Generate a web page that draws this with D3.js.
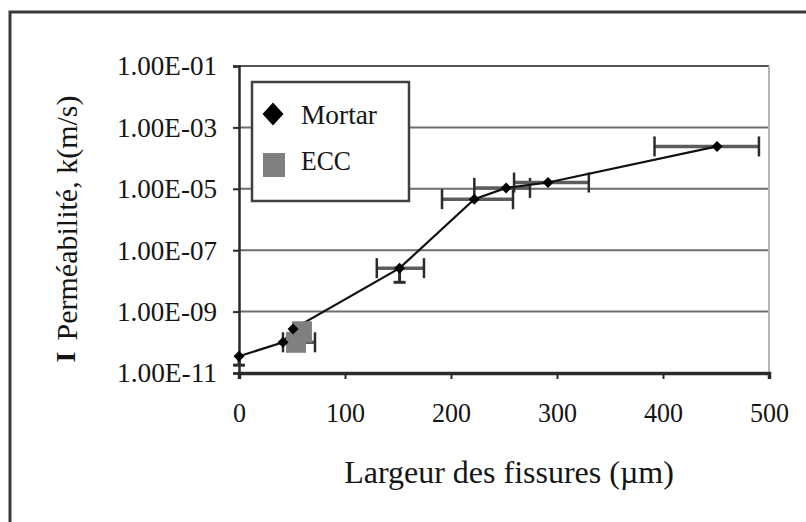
<!DOCTYPE html>
<html>
<head>
<meta charset="utf-8">
<script src="https://cdn.jsdelivr.net/npm/d3@7"></script>
<style>
  html, body { margin: 0; padding: 0; background: #fff; }
  svg { display: block; }
  svg text { font-family: "Liberation Serif", Tinos, "Times New Roman", Times, serif; fill: #151515; }
</style>
</head>
<body>
<svg id="chart" width="806" height="522"></svg>
<script>
// Mortar: crack width (µm) vs permeability k (m/s)
const mortarWidth = [0, 41.5, 51, 151.5, 222, 252, 291.5, 451];
const mortarK     = [3.5e-11, 1.0e-10, 2.7e-10, 2.6e-8, 4.6e-6, 1.07e-5, 1.6e-5, 2.4e-4];
// horizontal error ranges on crack width (null = none)
const mortarWidthLow  = [null, null, null, 130, 191.5, 222, 259.5, 392];
const mortarWidthHigh = [null, null, null, 174.5, 258.5, 274.5, 330, 490.5];
// vertical error ranges on permeability (null = none)
const mortarKLow  = [1.8e-11, null, null, 9.0e-9, null, null, null, null];

// ECC
const eccWidth = [53.8, 59.4];
const eccK     = [1.0e-10, 2.2e-10];
const eccWidthLow  = [41.5, null];
const eccWidthHigh = [71.7, null];

// axes
const xTicks = [0, 100, 200, 300, 400, 500];
const yTicks = [1e-1, 1e-3, 1e-5, 1e-7, 1e-9, 1e-11];
const yTickLabels = ["1.00E-01", "1.00E-03", "1.00E-05", "1.00E-07", "1.00E-09", "1.00E-11"];
const seriesNames = ["Mortar", "ECC"];
const xTitle = "Largeur des fissures (µm)";
const yTitle = "Perméabilité, k(m/s)";

const svg = d3.select("#chart");
const serif = "'Liberation Serif', Tinos, 'Times New Roman', Times, serif";

// outer frame
svg.append("rect")
  .attr("x", 10).attr("y", 12).attr("width", 830).attr("height", 560)
  .attr("fill", "#fff").attr("stroke", "#3a3a3a").attr("stroke-width", 3);

const x = d3.scaleLinear().domain([0, 500]).range([239, 769]);
const y = d3.scaleLog().domain([1e-11, 1e-1]).range([373, 66]);

// gridlines
svg.append("g").selectAll("line")
  .data(yTicks.filter(t => t > 1e-11))
  .join("line")
  .attr("x1", x(0)).attr("x2", x(500))
  .attr("y1", d => y(d)).attr("y2", d => y(d))
  .attr("stroke", (d, i) => i === 0 ? "#555" : "#6e6e6e")
  .attr("stroke-width", 2);

// right edge of plot area
svg.append("line")
  .attr("x1", x(500)).attr("x2", x(500)).attr("y1", y(1e-1)).attr("y2", y(1e-11))
  .attr("stroke", "#b5b5b5").attr("stroke-width", 2);

// y axis (labels slightly condensed, tall serif figures)
const yAxis = d3.axisLeft(y).tickValues(yTicks)
  .tickFormat((d, i) => yTickLabels[i]).tickSize(6).tickPadding(16);
const gy = svg.append("g").attr("transform", `translate(${x(0)},0)`).call(yAxis)
  .attr("font-family", serif);
gy.select(".domain").attr("stroke", "#2a2a2a").attr("stroke-width", 2.5);
gy.selectAll(".tick line").attr("stroke", "#2a2a2a").attr("stroke-width", 2);
gy.selectAll(".tick text").attr("font-size", 28).attr("fill", "#1a1a1a")
  .attr("textLength", 100).attr("lengthAdjust", "spacingAndGlyphs");

// x axis
const xAxis = d3.axisBottom(x).tickValues(xTicks).tickSize(6).tickPadding(23);
const gx = svg.append("g").attr("transform", `translate(0,${y(1e-11)})`).call(xAxis)
  .attr("font-family", serif);
gx.select(".domain").attr("stroke", "#2a2a2a").attr("stroke-width", 3.5);
gx.selectAll(".tick line").attr("stroke", "#2a2a2a").attr("stroke-width", 2);
gx.selectAll(".tick text").attr("font-size", 28).attr("fill", "#1a1a1a")
  .attr("textLength", d => String(d).length * 13).attr("lengthAdjust", "spacingAndGlyphs");

// error bars
const errG = svg.append("g");
function hErr(xv, lo, hi, kv) {
  if (lo == null) return;
  const yy = y(kv);
  errG.append("line").attr("x1", x(lo)).attr("x2", x(hi)).attr("y1", yy).attr("y2", yy)
    .attr("stroke", "#5c5c5c").attr("stroke-width", 3.5);
  [lo, hi].forEach(v => errG.append("line")
    .attr("x1", x(v)).attr("x2", x(v)).attr("y1", yy - 10).attr("y2", yy + 10)
    .attr("stroke", "#2b2b2b").attr("stroke-width", 2.5));
}
function vErr(xv, kv, lo) {
  if (lo == null) return;
  const xx = x(xv);
  errG.append("line").attr("x1", xx).attr("x2", xx).attr("y1", y(kv)).attr("y2", y(lo))
    .attr("stroke", "#2b2b2b").attr("stroke-width", 3);
  errG.append("line").attr("x1", xx - 6).attr("x2", xx + 6).attr("y1", y(lo)).attr("y2", y(lo))
    .attr("stroke", "#2b2b2b").attr("stroke-width", 3);
}
mortarWidth.forEach((w, i) => {
  hErr(w, mortarWidthLow[i], mortarWidthHigh[i], mortarK[i]);
  vErr(w, mortarK[i], mortarKLow[i]);
});
eccWidth.forEach((w, i) => hErr(w, eccWidthLow[i], eccWidthHigh[i], eccK[i]));

// mortar line
const mortar = mortarWidth.map((w, i) => ({ w, k: mortarK[i] }));
svg.append("path")
  .datum(mortar)
  .attr("fill", "none").attr("stroke", "#111").attr("stroke-width", 2.2)
  .attr("d", d3.line().x(d => x(d.w)).y(d => y(d.k)));

// ECC squares
const ecc = eccWidth.map((w, i) => ({ w, k: eccK[i] }));
svg.append("g").selectAll("rect")
  .data(ecc).join("rect")
  .attr("x", d => x(d.w) - 10).attr("y", d => y(d.k) - 10.5)
  .attr("width", 20).attr("height", 21)
  .attr("fill", "#808080");

// mortar diamonds
const diamond = (cx, cy, rx, ry) => `M${cx},${cy - ry}L${cx + rx},${cy}L${cx},${cy + ry}L${cx - rx},${cy}Z`;
svg.append("g").selectAll("path")
  .data(mortar).join("path")
  .attr("d", d => diamond(x(d.w), y(d.k), 5.5, 5.5))
  .attr("fill", "#000");

// legend
const lg = svg.append("g");
lg.append("rect").attr("x", 252).attr("y", 82).attr("width", 157).attr("height", 119)
  .attr("fill", "#fff").attr("stroke", "#404040").attr("stroke-width", 2.5);
lg.append("path").attr("d", diamond(273, 114, 10.5, 11.5)).attr("fill", "#000");
lg.append("rect").attr("x", 263).attr("y", 153).attr("width", 22).attr("height", 24).attr("fill", "#808080");
lg.selectAll("text.leg").data(seriesNames).join("text")
  .attr("class", "leg")
  .attr("x", 301).attr("y", (d, i) => i === 0 ? 124 : 170)
  .attr("font-family", serif).attr("font-size", 28)
  .attr("textLength", (d, i) => i === 0 ? 76 : 50).attr("lengthAdjust", "spacingAndGlyphs")
  .text(d => d);

// axis titles
svg.append("text")
  .attr("x", 509).attr("y", 483)
  .attr("text-anchor", "middle").attr("font-family", serif).attr("font-size", 32)
  .text(xTitle);

svg.append("text")
  .attr("transform", "translate(77,218) rotate(-90)")
  .attr("text-anchor", "middle").attr("font-family", serif).attr("font-size", 30)
  .text(yTitle);

svg.append("text")
  .attr("transform", "translate(75,357) rotate(-90)")
  .attr("text-anchor", "middle").attr("font-family", serif).attr("font-size", 28).attr("font-weight", "bold")
  .text("I");
</script>
</body>
</html>
